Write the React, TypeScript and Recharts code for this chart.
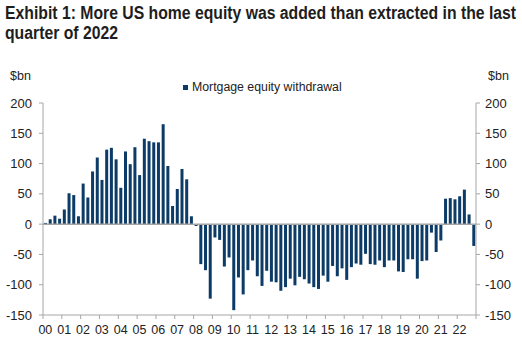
import React from 'react';
import { BarChart, Bar, Line, XAxis, YAxis, ReferenceLine, Legend } from 'recharts';

// quarterly mortgage equity withdrawal, $bn, 2000Q1 - 2022Q4
const years = ['00', '01', '02', '03', '04', '05', '06', '07', '08', '09', '10', '11', '12', '13', '14', '15', '16', '17', '18', '19', '20', '21', '22'];
const quarterNames = ['Q1', 'Q2', 'Q3', 'Q4'];
const withdrawal = [
  2, 8, 14, 9,
  24, 51, 48, 13,
  67, 44, 87, 110,
  73, 123, 126, 107,
  60, 120, 99, 127,
  81, 141, 137, 135,
  135, 165, 96, 30,
  58, 91, 74, 13,
  -3, -66, -76, -123,
  -22, -26, -70, -55,
  -142, -88, -116, -76,
  -60, -86, -102, -77,
  -95, -96, -110, -104,
  -90, -101, -87, -91,
  -98, -104, -107, -85,
  -95, -69, -86, -73,
  -92, -71, -65, -67,
  -49, -66, -67, -60,
  -71, -60, -60, -78,
  -79, -58, -58, -90,
  -61, -60, -14, -46,
  -27, 42, 43, 41,
  46, 57, 16, -36,
];
const yTicks = [-150, -100, -50, 0, 50, 100, 150, 200];

const quarters = years.flatMap((y) => quarterNames.map((q) => `${y}${q}`));
const data = quarters.map((q, i) => ({ q, value: withdrawal[i] }));
const yearTicks = years.map((y) => `${y}Q1`);

const NAVY = '#0b3b66';
const GREY = '#a6a6a6';
const FONT = '"Liberation Sans", Arial, sans-serif';

const PLOT_W = 433;
const BAND = PLOT_W / quarters.length;

const YearTick = (props: any) => {
  const { x, y, payload } = props;
  const edge = x - BAND / 2;
  const axisY = y - 10;
  const label = String(payload.value).slice(0, 2);
  return (
    <g>
      <line x1={edge} x2={edge} y1={axisY} y2={axisY + 4} stroke={GREY} />
      {label === '22' && (
        <line x1={edge + BAND * 4} x2={edge + BAND * 4} y1={axisY} y2={axisY + 4} stroke={GREY} />
      )}
      <text x={x} y={y} dy="0.71em" textAnchor="middle" fontSize={12.5} fill="#222" fontFamily={FONT}>
        {label}
      </text>
    </g>
  );
};

const LegendContent = () => (
  <div style={{ display: 'flex', alignItems: 'center', fontFamily: FONT, fontSize: 12.3, color: '#222' }}>
    <span style={{ width: 5, height: 5, background: NAVY, display: 'inline-block', marginRight: 4 }} />
    Mortgage equity withdrawal
  </div>
);

const titleLine = { display: 'block', transform: 'scaleX(0.9)', transformOrigin: 'left center' } as const;

export default function App() {
  return (
    <div style={{ position: 'absolute', left: 0, top: 0, width: 522, height: 359, background: '#fff', overflow: 'hidden' }}>
      <div
        style={{
          position: 'absolute',
          left: 5,
          top: 3,
          fontFamily: '"Liberation Sans Narrow", "Arial Narrow", "Liberation Sans", Arial, sans-serif',
          fontWeight: 'bold',
          fontSize: 17.5,
          lineHeight: '20px',
          color: '#1e1e1e',
          whiteSpace: 'nowrap',
        }}
      >
        <span style={titleLine}>Exhibit 1: More US home equity was added than extracted in the last</span>
        <span style={titleLine}>quarter of 2022</span>
      </div>
      <div style={{ position: 'absolute', left: 10, top: 69, fontFamily: FONT, fontSize: 12.5, color: '#222' }}>$bn</div>
      <div style={{ position: 'absolute', left: 488, top: 69, fontFamily: FONT, fontSize: 12.5, color: '#222' }}>$bn</div>
      <BarChart
        width={522}
        height={359}
        data={data}
        margin={{ top: 103, right: 0, bottom: 5, left: 8 }}
        barSize={3}
      >
        <XAxis
          dataKey="q"
          ticks={yearTicks}
          interval={0}
          tick={<YearTick />}
          tickLine={false}
          tickSize={4}
          tickMargin={6}
          height={25}
          axisLine={{ stroke: GREY }}
        />
        <YAxis
          yAxisId="left"
          orientation="left"
          domain={[-150, 200]}
          ticks={yTicks}
          interval={0}
          width={35}
          tickSize={4}
          tickMargin={7}
          axisLine={{ stroke: GREY }}
          tickLine={{ stroke: GREY }}
          tick={{ fontSize: 13, fill: '#222', fontFamily: FONT }}
        />
        <YAxis
          yAxisId="right"
          orientation="right"
          domain={[-150, 200]}
          ticks={yTicks}
          interval={0}
          width={46}
          tickSize={4}
          tickMargin={5}
          axisLine={{ stroke: GREY }}
          tickLine={{ stroke: GREY }}
          tick={{ fontSize: 13, fill: '#222', fontFamily: FONT, textAnchor: 'start' }}
        />
        <Legend
          content={<LegendContent />}
          wrapperStyle={{ position: 'absolute', top: 80, left: 183, width: 'auto' }}
        />
        <ReferenceLine yAxisId="left" y={0} stroke={GREY} strokeWidth={1.5} />
        <Bar yAxisId="left" dataKey="value" name="Mortgage equity withdrawal" fill={NAVY} isAnimationActive={false} />
        <Line
          yAxisId="right"
          dataKey="value"
          stroke="none"
          dot={false}
          activeDot={false}
          legendType="none"
          isAnimationActive={false}
        />
      </BarChart>
    </div>
  );
}
